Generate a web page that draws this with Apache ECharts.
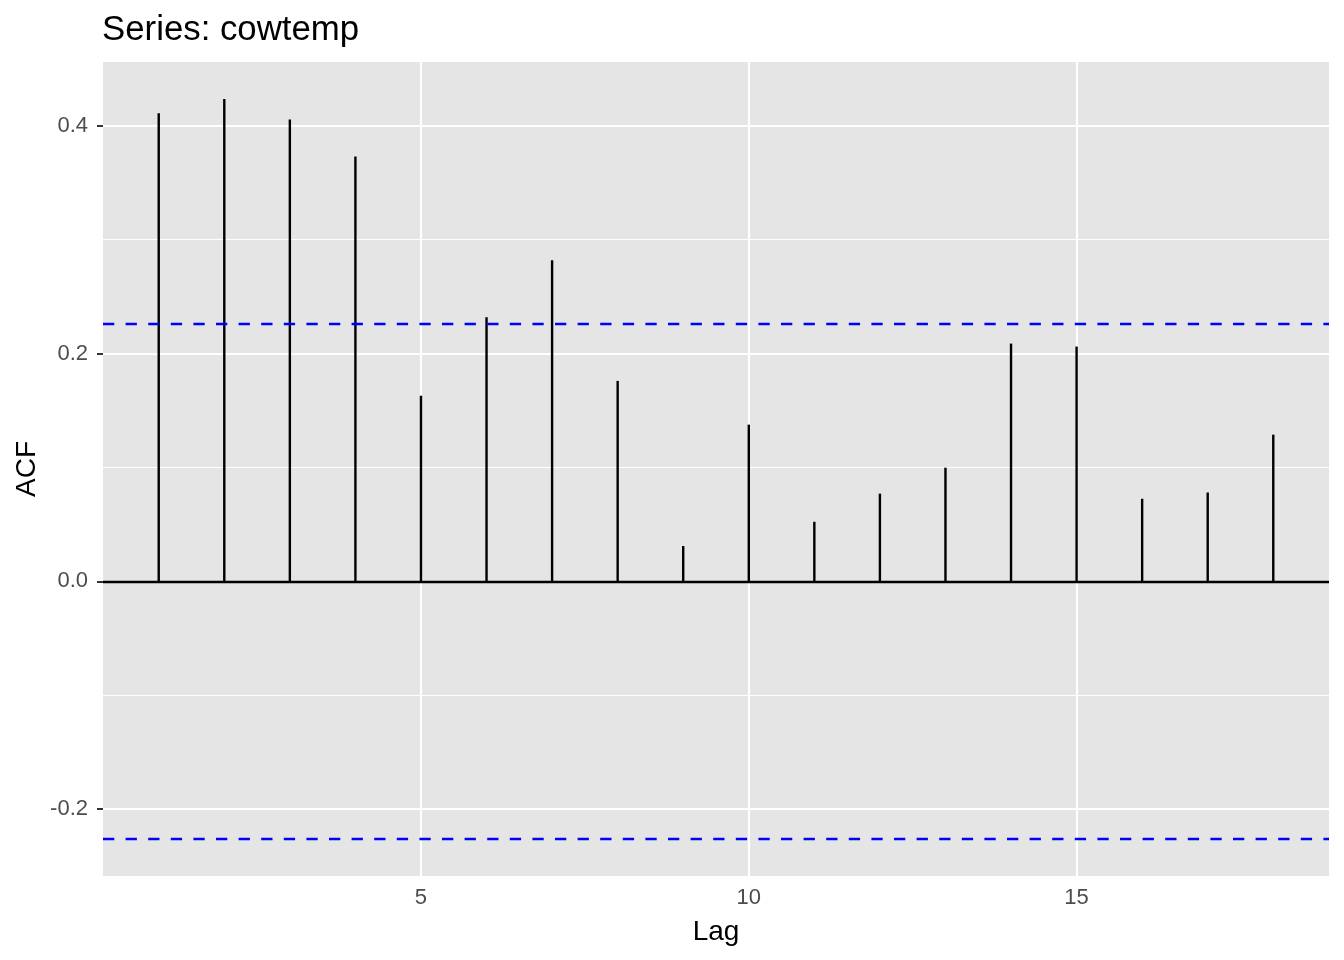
<!DOCTYPE html>
<html>
<head>
<meta charset="utf-8">
<script src="https://cdn.jsdelivr.net/npm/echarts@6/dist/echarts.min.js"></script>
<style>
html,body{margin:0;padding:0;background:#fff;}
#chart{width:1344px;height:960px;}
</style>
</head>
<body>
<div id="chart"></div>
<script>
const lags = [1, 2, 3, 4, 5, 6, 7, 8, 9, 10, 11, 12, 13, 14, 15, 16, 17, 18];
const acfValues = [0.411, 0.4236, 0.4055, 0.373, 0.163, 0.2319, 0.282, 0.176, 0.031, 0.1376, 0.0523, 0.077, 0.0998, 0.2088, 0.2062, 0.0725, 0.078, 0.1288];
const ciLimit = 0.2263;
const xTicks = [5, 10, 15];
const yTicks = [-0.2, 0.0, 0.2, 0.4];
const yMinorTicks = [-0.1, 0.1, 0.3];
const titleText = 'Series: cowtemp';
const xTitle = 'Lag';
const yTitle = 'ACF';

const FONT = '"Liberation Sans", Arial, Helvetica, sans-serif';
const stems = lags.map((l, i) => [l, acfValues[i]]);

const gridLines = [];
xTicks.forEach(v => gridLines.push({ xAxis: v, lineStyle: { color: '#ffffff', width: 2.2, type: 'solid' } }));
yTicks.forEach(v => gridLines.push({ yAxis: v, lineStyle: { color: '#ffffff', width: 2.2, type: 'solid' } }));
yMinorTicks.forEach(v => gridLines.push({ yAxis: v, lineStyle: { color: '#ffffff', width: 1.1, type: 'solid' } }));

const chart = echarts.init(document.getElementById('chart'), null, { renderer: 'canvas' });
chart.setOption({
  animation: false,
  backgroundColor: '#ffffff',
  title: {
    text: titleText,
    left: 102,
    top: 13,
    padding: 0,
    textStyle: { fontFamily: FONT, fontSize: 34.8, fontWeight: 'normal', color: '#000000' }
  },
  grid: {
    left: 103, right: 15, top: 62, bottom: 84,
    show: true, backgroundColor: '#E5E5E5', borderWidth: 0
  },
  xAxis: {
    type: 'value',
    min: 0.15, max: 18.85,
    axisLine: { show: false },
    splitLine: { show: false },
    axisTick: { show: true, customValues: xTicks, length: 6, lineStyle: { color: '#333333', width: 2 } },
    axisLabel: { customValues: xTicks, margin: 11, color: '#4D4D4D', fontFamily: FONT, fontSize: 22,
      formatter: v => String(v) }
  },
  yAxis: {
    type: 'value',
    min: -0.2588, max: 0.4561,
    axisLine: { show: false },
    splitLine: { show: false },
    axisTick: { show: true, customValues: yTicks, length: 6, lineStyle: { color: '#333333', width: 2 } },
    axisLabel: { customValues: yTicks, margin: 15, color: '#4D4D4D', fontFamily: FONT, fontSize: 22,
      formatter: v => v.toFixed(1) }
  },
  graphic: [
    { type: 'text', x: 716, y: 932, style: { text: xTitle, font: '28px ' + FONT, fill: '#000000', align: 'center', verticalAlign: 'middle' } },
    { type: 'text', x: 27, y: 469, rotation: Math.PI / 2, style: { text: yTitle, font: '28px ' + FONT, fill: '#000000', align: 'center', verticalAlign: 'middle' } }
  ],
  series: [
    {
      type: 'bar',
      data: stems,
      barWidth: 2.4,
      z: 3,
      itemStyle: { color: '#000000' },
      silent: true,
      markLine: {
        silent: true, symbol: 'none', z: 1, precision: 6,
        label: { show: false },
        data: gridLines
      }
    },
    {
      type: 'line',
      data: [],
      z: 5,
      markLine: {
        silent: true, symbol: 'none', z: 5, precision: 6,
        label: { show: false },
        data: [
          { yAxis: 0, lineStyle: { color: '#000000', width: 2.4, type: 'solid' } },
          { yAxis: ciLimit, lineStyle: { color: '#0000FF', width: 2.4, type: [11.3, 11.3] } },
          { yAxis: -ciLimit, lineStyle: { color: '#0000FF', width: 2.4, type: [11.3, 11.3] } }
        ]
      }
    }
  ]
});
</script>
</body>
</html>
